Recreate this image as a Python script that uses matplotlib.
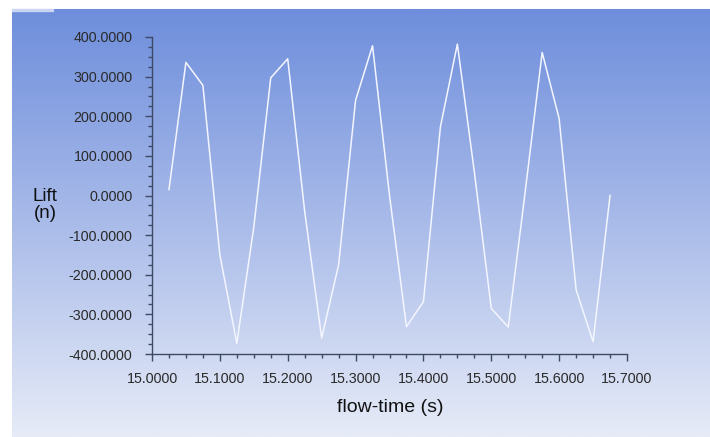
import numpy as np
import matplotlib
matplotlib.use("Agg")
import matplotlib.pyplot as plt
from matplotlib.ticker import MultipleLocator, FormatStrFormatter
from matplotlib.colors import LinearSegmentedColormap

# lift monitor samples (time step 0.025 s)
flow_time = [15.025, 15.050, 15.075, 15.100, 15.125, 15.150, 15.175, 15.200,
             15.225, 15.250, 15.275, 15.300, 15.325, 15.350, 15.375, 15.400,
             15.425, 15.450, 15.475, 15.500, 15.525, 15.550, 15.575, 15.600,
             15.625, 15.650, 15.675]
lift = [15, 336, 278, -150, -373, -80, 297, 345,
        -40, -360, -175, 240, 378, 0, -331, -268,
        173, 382, 60, -285, -332, 10, 361, 194,
        -238, -369, 0]

W, H = 710, 437
plt.rcParams["font.family"] = ["Liberation Sans", "DejaVu Sans"]

fig = plt.figure(figsize=(W / 100, H / 100), dpi=100)
fig.patch.set_facecolor("white")

# fluent-style gradient backdrop
bg = fig.add_axes([12 / W, 0, (W - 12) / W, (H - 9) / H], zorder=0)
cmap = LinearSegmentedColormap.from_list("fl", ["#6e8edc", "#a9bbe9", "#e6ebf7"])
bg.imshow(np.linspace(0, 1, 256).reshape(-1, 1), aspect="auto", cmap=cmap,
          extent=[0, 1, 0, 1])
bg.axis("off")
fig.patches.append(plt.Rectangle((12 / W, 1 - 11 / H), 41 / W, 2 / H,
                                 transform=fig.transFigure, color="#c9d5f2",
                                 zorder=1))

ax = fig.add_axes([152 / W, (H - 354) / H, 475 / W, 317 / H], zorder=2)
ax.patch.set_alpha(0)
ax.plot(flow_time, lift, color="#f4f6ff", lw=1.1)

ax.set_xlim(15.0, 15.7)
ax.set_ylim(-400, 400)
ax.xaxis.set_major_locator(MultipleLocator(0.1))
ax.xaxis.set_minor_locator(MultipleLocator(0.025))
ax.yaxis.set_major_locator(MultipleLocator(100))
ax.yaxis.set_minor_locator(MultipleLocator(25))
ax.xaxis.set_major_formatter(FormatStrFormatter("%.4f"))
ax.yaxis.set_major_formatter(FormatStrFormatter("%.4f"))

axc = "#3c4a66"
for s in ("top", "right"):
    ax.spines[s].set_visible(False)
for s in ("left", "bottom"):
    ax.spines[s].set_color(axc)
    ax.spines[s].set_linewidth(1.0)
ax.tick_params(which="major", length=5, width=1, color=axc, labelsize=10.3,
               labelcolor="#2a2a2a")
ax.tick_params(which="minor", length=3, width=1, color=axc)
ax.tick_params(axis="y", which="major", pad=9)
ax.tick_params(axis="x", which="major", pad=8)

ax.set_xlabel("flow-time (s)", fontsize=14, color="#111111")
ax.xaxis.set_label_coords(0.501, -0.142)
ax.set_ylabel("Lift\n(n)", fontsize=13.5, color="#111111", rotation=0,
              ha="center", va="center", linespacing=0.95)
ax.yaxis.set_label_coords(-0.225, 0.47)

fig.savefig("out.png", dpi=100)
